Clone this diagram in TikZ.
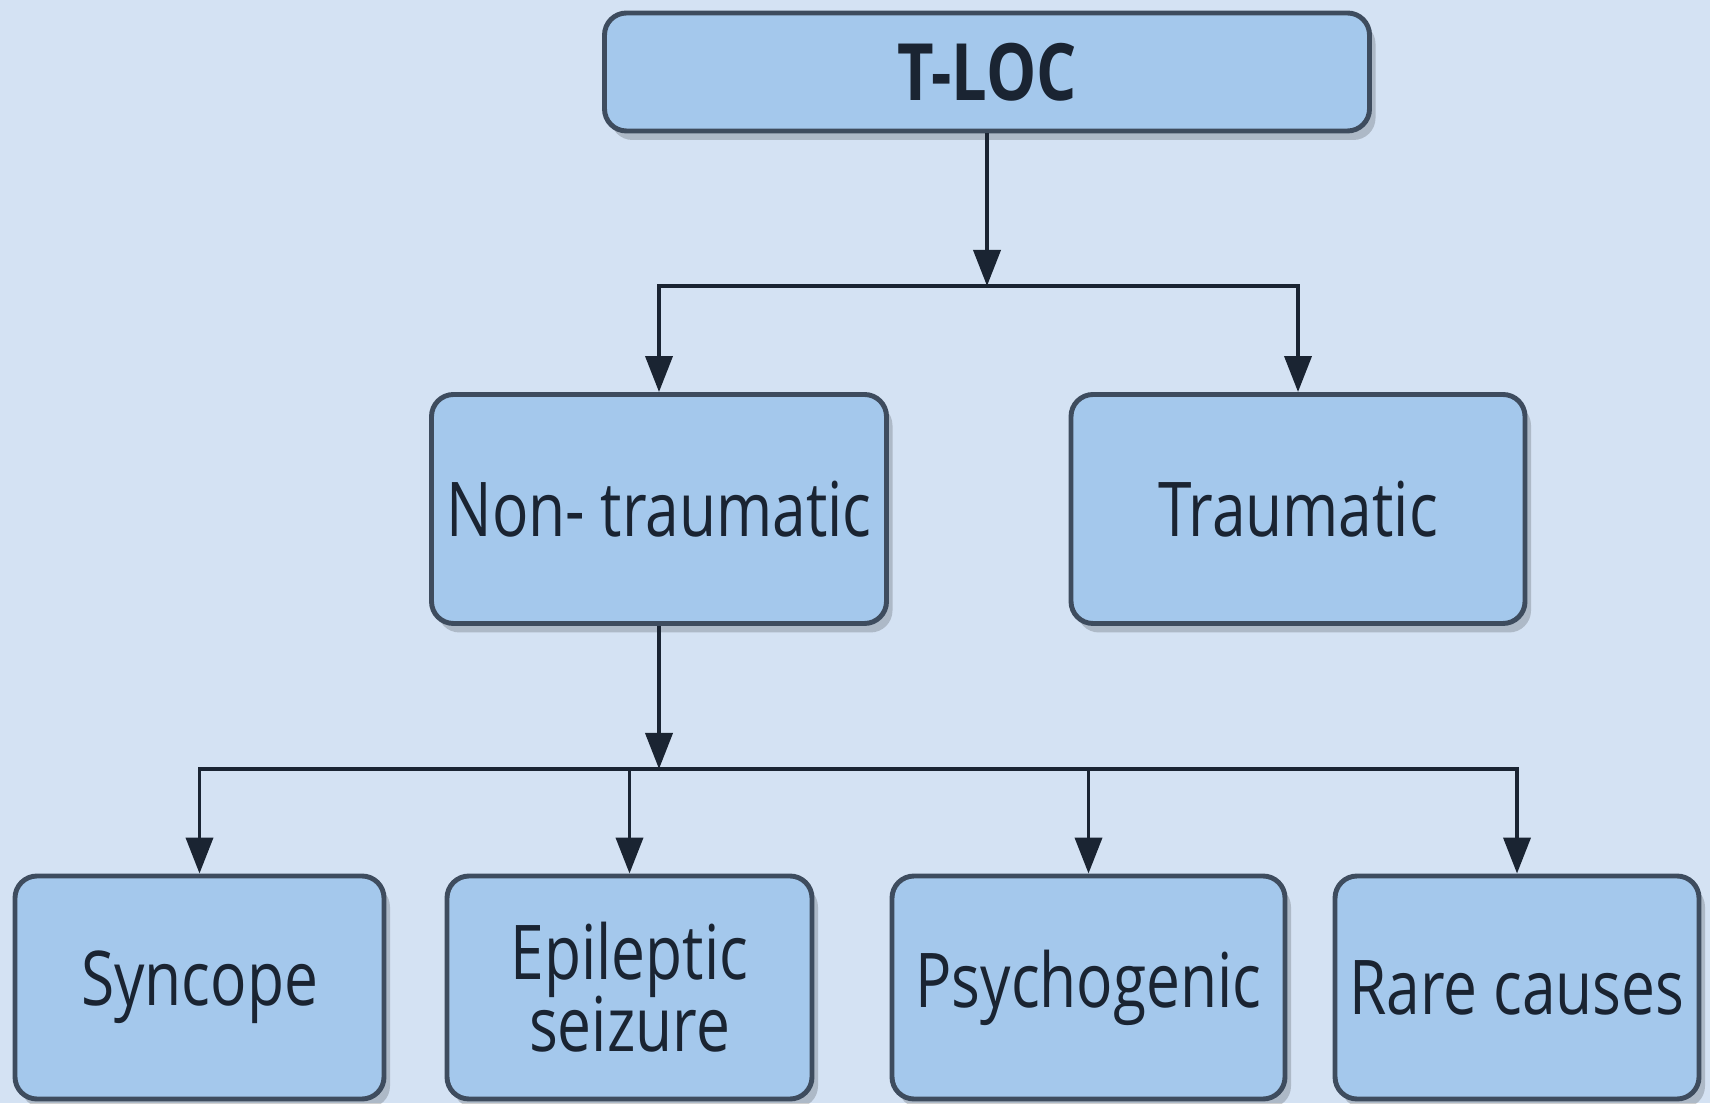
\documentclass[tikz,border=0pt]{standalone}
\usepackage{fontspec}
\setmainfont[FakeStretch=0.8]{Open Sans}
\usetikzlibrary{arrows.meta,shadows}
\definecolor{bgblue}{RGB}{212,226,243}
\definecolor{boxblue}{RGB}{164,200,236}
\definecolor{boxline}{RGB}{62,76,94}
\definecolor{ink}{RGB}{26,36,50}
\newcommand{\boxfont}{\fontsize{21.5}{20.5}\selectfont\setlength{\lineskiplimit}{-30pt}}
\begin{document}
\begin{tikzpicture}[
  every node/.style={font=\boxfont, text=ink},
  cause/.style={rectangle,rounded corners=2.2mm,draw=boxline,line width=1.4pt,fill=boxblue,
    align=center,inner sep=0pt,
    drop shadow={fill=black,opacity=0.18,shadow xshift=0.6mm,shadow yshift=-0.9mm}},
  link/.style={draw=ink,line width=1.1pt},
  arr/.style={link,-{Triangle[length=3.6mm,width=2.7mm]}}
]
\useasboundingbox (0,0) rectangle (17.1,11.03);
\fill[bgblue] (0,0) rectangle (17.1,11.03);
\node[cause,minimum width=7.65cm,minimum height=1.18cm,font=\fontsize{22.5}{24}\selectfont\bfseries] (tloc) at (9.87,10.31) {T-LOC};
\node[cause,minimum width=4.55cm,minimum height=2.29cm] (nontr) at (6.59,5.94) {Non- traumatic};
\node[cause,minimum width=4.54cm,minimum height=2.29cm] (traum) at (12.98,5.94) {Traumatic};
\node[cause,minimum width=3.69cm,minimum height=2.23cm] (sync) at (1.995,1.155) {Syncope};
\node[cause,minimum width=3.65cm,minimum height=2.23cm] (epil) at (6.295,1.155) {Epileptic\\seizure};
\node[cause,minimum width=3.93cm,minimum height=2.23cm] (psych) at (10.885,1.155) {Psychogenic};
\node[cause,minimum width=3.64cm,minimum height=2.23cm] (rare) at (15.17,1.155) {Rare causes};
\coordinate (j1) at (9.87,8.17);
\coordinate (j2) at (6.59,3.34);
\draw[arr] (tloc) -- (j1);
\foreach \n in {nontr,traum} \draw[arr] (j1) -| (\n);
\draw[arr] (nontr) -- (j2);
\foreach \n in {sync,epil,psych,rare} \draw[arr] (j2) -| (\n);
\end{tikzpicture}
\end{document}
